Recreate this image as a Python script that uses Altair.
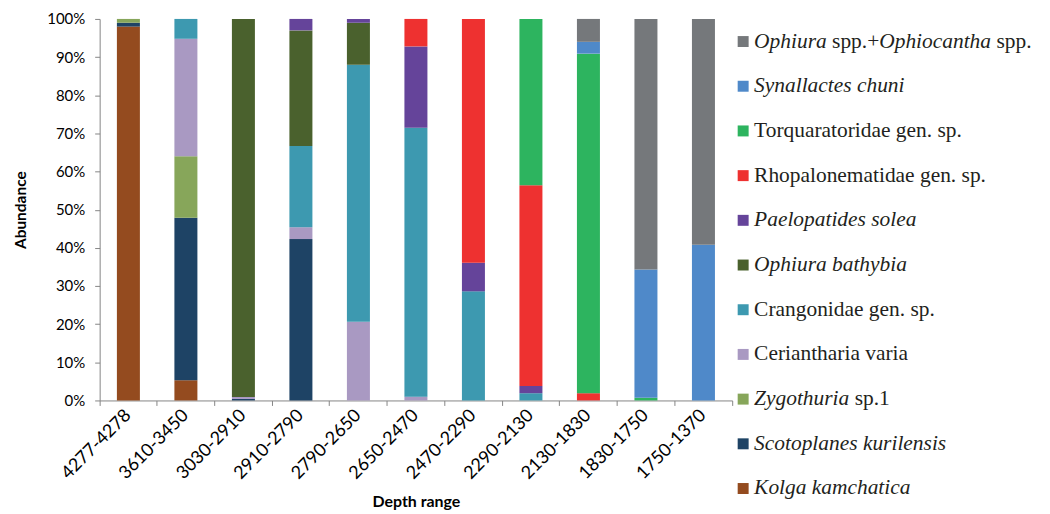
import altair as alt
import pandas as pd

# ---- data -------------------------------------------------------------
depths = ["4277-4278", "3610-3450", "3030-2910", "2910-2790", "2790-2650",
          "2650-2470", "2470-2290", "2290-2130", "2130-1830", "1830-1750",
          "1750-1370"]

# stacking order: bottom -> top
species = ["Kolga kamchatica", "Scotoplanes kurilensis", "Zygothuria sp.1",
           "Ceriantharia varia", "Crangonidae gen. sp.", "Ophiura bathybia",
           "Paelopatides solea", "Rhopalonematidae gen. sp.",
           "Torquaratoridae gen. sp.", "Synallactes chuni",
           "Ophiura spp.+Ophiocantha spp."]

kolga      = [98.0, 5.3, 0, 0, 0, 0, 0, 0, 0, 0, 0]
scotoplanes = [1.0, 42.6, 0.4, 42.3, 0, 0, 0, 0, 0, 0, 0]
zygothuria = [1.0, 16.1, 0, 0, 0, 0, 0, 0, 0, 0, 0]
ceriantharia = [0, 30.8, 0.5, 3.1, 20.6, 1.0, 0, 0, 0, 0, 0]
crangonidae = [0, 5.2, 0, 21.3, 67.4, 70.5, 28.6, 1.9, 0, 0, 0]
bathybia   = [0, 0, 99.1, 30.3, 11.0, 0, 0, 0, 0, 0, 0]
paelopatides = [0, 0, 0, 3.0, 1.0, 21.3, 7.5, 1.9, 0, 0, 0]
rhopalo    = [0, 0, 0, 0, 0, 7.2, 63.9, 52.6, 1.9, 0, 0]
torquar    = [0, 0, 0, 0, 0, 0, 0, 43.6, 89.0, 0.7, 0]
synallactes = [0, 0, 0, 0, 0, 0, 0, 0, 3.1, 33.6, 40.8]
ophiura_spp = [0, 0, 0, 0, 0, 0, 0, 0, 6.0, 65.7, 59.2]

series = [kolga, scotoplanes, zygothuria, ceriantharia, crangonidae, bathybia,
          paelopatides, rhopalo, torquar, synallactes, ophiura_spp]

colors = ["#944B1F", "#1E4365", "#87A65A", "#A999C2", "#3D99B0", "#4A612D",
          "#65449A", "#EE3130", "#2DB45F", "#4F89C9", "#75787B"]

# legend label pieces (text, italic?)
legend_parts = {
    "Ophiura spp.+Ophiocantha spp.": [("Ophiura", True), (" spp.+", False),
                                      ("Ophiocantha", True), (" spp.", False)],
    "Synallactes chuni": [("Synallactes chuni", True)],
    "Torquaratoridae gen. sp.": [("Torquaratoridae gen. sp.", False)],
    "Rhopalonematidae gen. sp.": [("Rhopalonematidae gen. sp.", False)],
    "Paelopatides solea": [("Paelopatides solea", True)],
    "Ophiura bathybia": [("Ophiura bathybia", True)],
    "Crangonidae gen. sp.": [("Crangonidae gen. sp.", False)],
    "Ceriantharia varia": [("Ceriantharia varia", False)],
    "Zygothuria sp.1": [("Zygothuria", True), (" sp.1", False)],
    "Scotoplanes kurilensis": [("Scotoplanes kurilensis", True)],
    "Kolga kamchatica": [("Kolga kamchatica", True)],
}

# ---- tables -------------------------------------------------------------
rows = []
for i, (sp, vals) in enumerate(zip(species, series)):
    for d, v in zip(depths, vals):
        if v > 0:
            rows.append({"depth": d, "species": sp, "value": v, "idx": i})
df = pd.DataFrame(rows)

# Liberation Serif (Times metrics) advance widths, per 1000 em
W_IT = {"O": 722, "p": 500, "h": 500, "i": 278, "u": 500, "r": 389, "a": 500,
        "c": 444, "n": 500, "t": 278, "Z": 556, "y": 444, "g": 500, "o": 500}
W_RM = {" ": 250, "s": 389, "p": 500, ".": 250, "+": 564, "1": 500}
LEG_FONT = 21.5
TEXT_START = 21

leg_order = species[::-1]  # top -> bottom
leg_rows = []
for sp in leg_order:
    pos = TEXT_START
    for txt, it in legend_parts[sp]:
        table = W_IT if it else W_RM
        # SVG collapses leading blanks: advance past them explicitly
        while txt.startswith(" "):
            pos += W_RM[" "] * LEG_FONT / 1000.0
            txt = txt[1:]
        leg_rows.append({"species": sp, "txt": txt, "italic": it, "px": pos})
        pos += sum(table.get(ch, 500) for ch in txt) * LEG_FONT / 1000.0
leg_df = pd.DataFrame(leg_rows)
sq_df = pd.DataFrame({"species": leg_order})

color_scale = alt.Scale(domain=species, range=colors)
AX_FONT = "Lato"
AX_GRAY = "#868686"

# ---- main stacked bar chart ----------------------------------------------
bars = alt.Chart(df).mark_bar(width=alt.RelativeBandSize(0.4)).encode(
    x=alt.X("depth:N", sort=depths,
            scale=alt.Scale(paddingInner=0, paddingOuter=0),
            axis=alt.Axis(title="Depth range", labelAngle=-45,
                          labelAlign="right", labelBaseline="middle",
                          bandPosition=1, tickExtra=True, tickSize=5,
                          labelPadding=7, titlePadding=11,
                          labelFont=AX_FONT, labelFontSize=18,
                          labelColor="#000000", titleFont=AX_FONT,
                          titleFontSize=16, titleFontWeight="bold",
                          titleColor="#000000", domainColor=AX_GRAY,
                          tickColor=AX_GRAY)),
    y=alt.Y("value:Q", stack="normalize",
            scale=alt.Scale(domain=[0, 1]),
            axis=alt.Axis(title="Abundance", format="%",
                          values=[i / 10 for i in range(11)], grid=False,
                          tickSize=5, labelPadding=10, titlePadding=18,
                          labelFont=AX_FONT, labelFontSize=15,
                          labelColor="#000000", titleFont=AX_FONT,
                          titleFontSize=15.5, titleFontWeight="bold",
                          titleColor="#000000", domainColor=AX_GRAY,
                          tickColor=AX_GRAY)),
    color=alt.Color("species:N", scale=color_scale, legend=None),
    order=alt.Order("idx:Q", sort="ascending"),
).properties(width=635, height=383)

# ---- legend panel -----------------------------------------------------------
ypos = alt.Y("species:N", sort=leg_order, axis=None,
             scale=alt.Scale(type="point", padding=0, range=[22.7, 471.4]))

squares = alt.Chart(sq_df).mark_square(size=121, opacity=1).encode(
    x=alt.value(10), y=ypos,
    color=alt.Color("species:N", scale=color_scale, legend=None),
)
txt_it = alt.Chart(leg_df).transform_filter("datum.italic").mark_text(
    align="left", baseline="middle", font="Liberation Serif",
    fontSize=LEG_FONT, fontStyle="italic", color="#231F20",
).encode(x=alt.X("px:Q", scale=None, axis=None), y=ypos, text="txt:N")
txt_rm = alt.Chart(leg_df).transform_filter("!datum.italic").mark_text(
    align="left", baseline="middle", font="Liberation Serif",
    fontSize=LEG_FONT, color="#231F20",
).encode(x=alt.X("px:Q", scale=None, axis=None), y=ypos, text="txt:N")

legend = alt.layer(squares, txt_it, txt_rm).properties(width=305, height=383)

chart = alt.hconcat(bars, legend, spacing=0).properties(
    padding={"left": 5, "top": 3, "right": 5, "bottom": 0}
).configure_view(stroke=None)

chart.save("out.html", embed_options={"renderer": "svg", "actions": False})
